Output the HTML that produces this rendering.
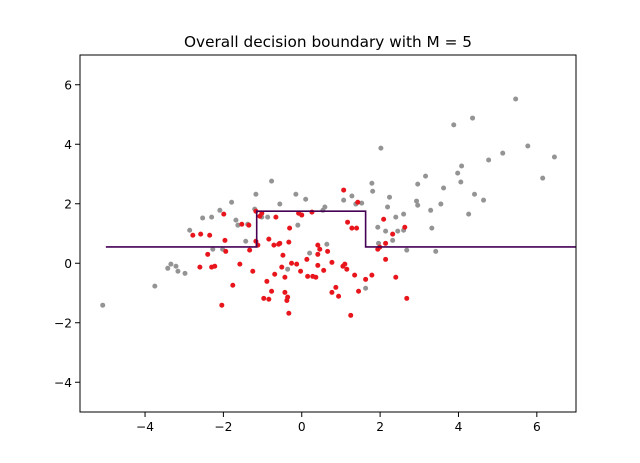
<!DOCTYPE html>
<html><head><meta charset="utf-8"><style>
html,body{margin:0;padding:0;background:#fff;}
svg{display:block;font-family:"DejaVu Sans","Liberation Sans",sans-serif;}
</style></head><body>
<svg id="chart" width="640" height="463" viewBox="0 0 640 463">
<rect width="640" height="463" fill="#fff"/>
<text x="328" y="47" text-anchor="middle" font-size="15.3" fill="#000">Overall decision boundary with M = 5</text>
<g id="marks"></g>
<g id="axes"></g>
</svg>
<script>
const xTicks = [-4,-2,0,2,4,6];
const yTicks = [-4,-2,0,2,4,6];
const boundaryX = [-5,-1.15,-1.15,1.63,1.63,7];
const boundaryY = [0.55,0.55,1.75,1.75,0.55,0.55];
const grayX = [-5.08,-3.75,-3.42,-3.34,-3.21,-3.16,-2.98,-2.86,-2.53,-2.30,-2.27,-2.09,-2.02,-1.79,-1.68,-1.63,-1.43,-1.38,-1.20,-1.17,-1.02,-0.87,-0.77,-0.56,-0.36,-0.15,-0.10,0.10,0.20,0.54,0.59,0.64,1.07,1.28,1.38,1.53,1.63,1.79,1.81,1.94,1.96,2.02,2.14,2.19,2.24,2.32,2.40,2.45,2.60,2.60,2.68,2.93,2.96,2.96,3.16,3.29,3.32,3.42,3.55,3.62,3.88,3.98,4.06,4.08,4.26,4.36,4.41,4.64,4.77,5.13,5.46,5.77,6.15,6.45];
const grayY = [-1.41,-0.77,-0.17,-0.03,-0.10,-0.27,-0.34,1.11,1.52,1.55,0.47,1.78,0.47,2.05,1.45,1.28,0.74,1.31,1.82,2.32,1.55,1.55,2.76,1.99,-0.20,2.32,1.28,2.15,0.34,1.78,1.89,0.64,2.12,2.26,1.99,2.02,-0.84,2.69,2.42,1.21,0.67,3.87,1.08,1.89,2.22,0.77,1.55,1.08,1.65,1.11,0.44,2.09,1.95,2.66,2.93,1.78,1.18,0.40,1.99,2.53,4.65,3.03,2.73,3.27,1.65,4.88,2.32,2.12,3.47,3.70,5.52,3.94,2.86,3.57];
const redX = [-2.78,-2.60,-2.58,-2.40,-2.35,-2.30,-2.22,-2.04,-1.99,-1.96,-1.94,-1.76,-1.58,-1.53,-1.35,-1.33,-1.25,-1.17,-1.17,-1.12,-1.07,-1.02,-0.97,-0.89,-0.84,-0.84,-0.77,-0.71,-0.69,-0.66,-0.59,-0.56,-0.51,-0.48,-0.43,-0.43,-0.38,-0.33,-0.33,-0.36,-0.31,-0.26,-0.13,-0.08,0.00,-0.03,0.13,0.15,0.26,0.28,0.36,0.41,0.41,0.41,0.46,0.56,0.66,0.77,0.77,0.87,0.94,1.05,1.07,1.10,1.15,1.17,1.28,1.35,1.40,1.45,1.43,1.63,1.79,1.94,1.99,2.09,2.14,2.14,2.32,2.40,2.63,2.68,1.25];
const redY = [0.94,-0.13,0.98,0.30,0.94,-0.13,-0.10,-1.41,1.65,0.77,0.40,-0.74,-0.03,1.31,1.28,0.44,-0.27,0.74,1.75,0.61,1.58,1.68,-1.18,-0.61,0.81,-1.21,-0.94,0.61,-0.37,1.55,0.64,0.67,-0.13,0.27,-0.47,-0.98,-1.25,0.71,-1.68,-1.14,1.18,0.00,-0.03,1.68,1.62,-0.27,0.13,-0.44,1.72,-0.44,-0.47,-0.07,0.61,0.30,0.47,-0.24,0.40,0.03,-0.98,-0.81,-1.11,-0.10,2.46,-0.03,-0.20,1.38,1.18,-0.40,1.18,-0.94,2.05,-0.54,-0.40,0.47,0.54,1.48,0.67,0.13,0.98,-0.47,1.21,-1.18,-1.75];

const L=80,R=576,T=55,B=412;
const xMin=-5.66,xMax=7.0,yMin=-5.0,yMax=7.0;
const sx=v=>L+(v-xMin)/(xMax-xMin)*(R-L);
const sy=v=>B-(v-yMin)/(yMax-yMin)*(B-T);
const NS="http://www.w3.org/2000/svg";
const marks=document.getElementById('marks');
const axes=document.getElementById('axes');
function mk(tag,attrs,parent){const e=document.createElementNS(NS,tag);for(const k in attrs)e.setAttribute(k,attrs[k]);parent.appendChild(e);return e;}

for(let i=0;i<grayX.length;i++){
  const c=mk('circle',{cx:sx(grayX[i]),cy:sy(grayY[i]),r:2.5,fill:'#949494'},marks);
  
  
}
for(let i=0;i<redX.length;i++){
  const c=mk('circle',{cx:sx(redX[i]),cy:sy(redY[i]),r:2.5,fill:'#e8161c'},marks);
  
  
}
let d='';
for(let i=0;i<boundaryX.length;i++){d+=(i?'L':'M')+sx(boundaryX[i])+' '+sy(boundaryY[i]);}
const bl=mk('path',{d:d,fill:'none',stroke:'#440154','stroke-width':1.6},marks);



const frame=mk('rect',{x:L,y:T,width:R-L,height:B-T,fill:'none',stroke:'#000','stroke-width':1},axes);


for(const t of xTicks){
  const x=sx(t);
  const tk=mk('line',{x1:x,x2:x,y1:B,y2:B+5,stroke:'#000'},axes);
  
  
  const tx=mk('text',{x:x,y:B+19,'text-anchor':'middle','font-size':12.2,fill:'#000'},axes);
  tx.textContent=(t<0?'\u2212'+(-t):String(t));
  
  
}
for(const t of yTicks){
  const y=sy(t);
  const tk=mk('line',{x1:L-5,x2:L,y1:y,y2:y,stroke:'#000'},axes);
  
  
  const tx=mk('text',{x:L-8,y:y+4.5,'text-anchor':'end','font-size':12.2,fill:'#000'},axes);
  tx.textContent=(t<0?'\u2212'+(-t):String(t));
  
  
}
</script>
</body></html>
